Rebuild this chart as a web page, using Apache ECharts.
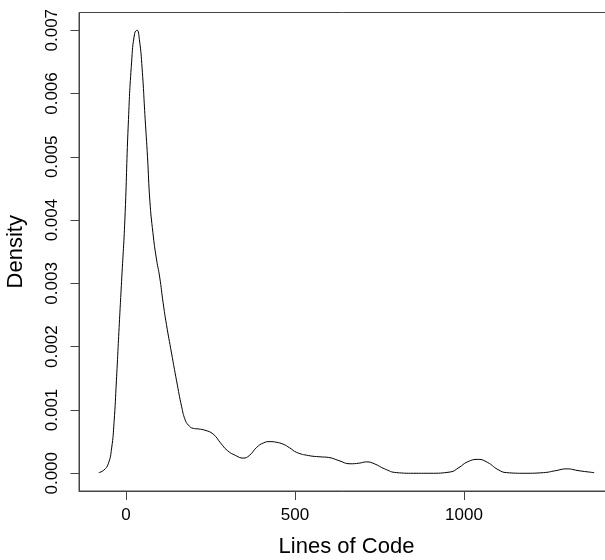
<!DOCTYPE html>
<html>
<head>
<meta charset="utf-8">
<script src="https://cdn.jsdelivr.net/npm/echarts@6/dist/echarts.min.js"></script>
<style>
html,body{margin:0;padding:0;background:#fff;}
#chart{width:605px;height:560px;}
</style>
</head>
<body>
<div id="chart"></div>
<script>
// Density estimate of lines of code
const linesOfCode = [-80,-65,-52,-42,-35,-28,-20,-12,-3,7,17,26,33,40,48,57,64,71,80,90,100,110,120,135,150,165,175,185,199,215,234,258,280,300,325,347,365,387,407,426,445,465,485,505,540,574,600,630,663,690,712,735,765,801,850,900,959,985,1010,1042,1070,1100,1126,1180,1235,1270,1304,1340,1385];
const density = [0.00001,0.00005,0.00015,0.0004,0.0008,0.00146,0.0023,0.0031,0.0040,0.0055,0.0065,0.00695,0.0070,0.00685,0.0064,0.0056,0.0050,0.0043,0.0038,0.0034,0.0031,0.0027,0.00235,0.0019,0.00146,0.00105,0.00085,0.00076,0.00071,0.0007,0.00068,0.00062,0.00048,0.00036,0.00028,0.00024,0.00028,0.00041,0.00048,0.0005,0.00049,0.00046,0.0004,0.00033,0.00028,0.00026,0.00025,0.0002,0.00015,0.00016,0.00018,0.00015,0.00007,0.00001,0,0,0.00002,0.00009,0.00018,0.00022,0.00017,0.00006,0.00001,0,0.00001,0.00004,0.00007,0.00004,0.00001];
const xTicks = [0, 500, 1000];
const yTicks = [0, 0.001, 0.002, 0.003, 0.004, 0.005, 0.006, 0.007];
const xTitle = 'Lines of Code';
const yTitle = 'Density';

const points = linesOfCode.map((x, i) => [x, density[i]]);
const chart = echarts.init(document.getElementById('chart'), null, {renderer: 'canvas'});
const font = 'Liberation Sans, Arial, Helvetica, sans-serif';
const axisColor = '#444';

chart.setOption({
  animation: false,
  backgroundColor: '#fff',
  grid: {
    left: 79, top: 12.5, bottom: 69, right: -9,
    show: true, borderColor: axisColor, borderWidth: 1,
    containLabel: false, outerBoundsMode: 'none'
  },
  xAxis: {
    type: 'value',
    min: -138.6, max: 1443.6,
    name: xTitle, nameLocation: 'middle', nameGap: 45,
    nameTextStyle: {fontFamily: font, fontSize: 22, color: '#000'},
    axisLine: {show: true, onZero: false, lineStyle: {color: axisColor, width: 1}},
    axisTick: {show: true, customValues: xTicks, length: 9, lineStyle: {color: axisColor}},
    axisLabel: {show: true, customValues: xTicks, margin: 16, fontFamily: font, fontSize: 17, color: '#000',
      formatter: v => String(v)},
    splitLine: {show: false}
  },
  yAxis: {
    type: 'value',
    min: -0.00028, max: 0.00728,
    name: yTitle, nameLocation: 'middle', nameGap: 52, nameRotate: 90,
    nameTextStyle: {fontFamily: font, fontSize: 22, color: '#000'},
    axisLine: {show: true, onZero: false, lineStyle: {color: axisColor, width: 1}},
    axisTick: {show: true, customValues: yTicks, length: 8.5, lineStyle: {color: axisColor}},
    axisLabel: {show: true, customValues: yTicks, rotate: 90, margin: 18, fontFamily: font, fontSize: 17, color: '#000',
      formatter: v => v.toFixed(3)},
    splitLine: {show: false}
  },
  series: [{
    type: 'line',
    data: points,
    smooth: 0.5,
    showSymbol: false,
    symbol: 'none',
    clip: true,
    lineStyle: {color: '#000', width: 1}
  }]
});
</script>
</body>
</html>
